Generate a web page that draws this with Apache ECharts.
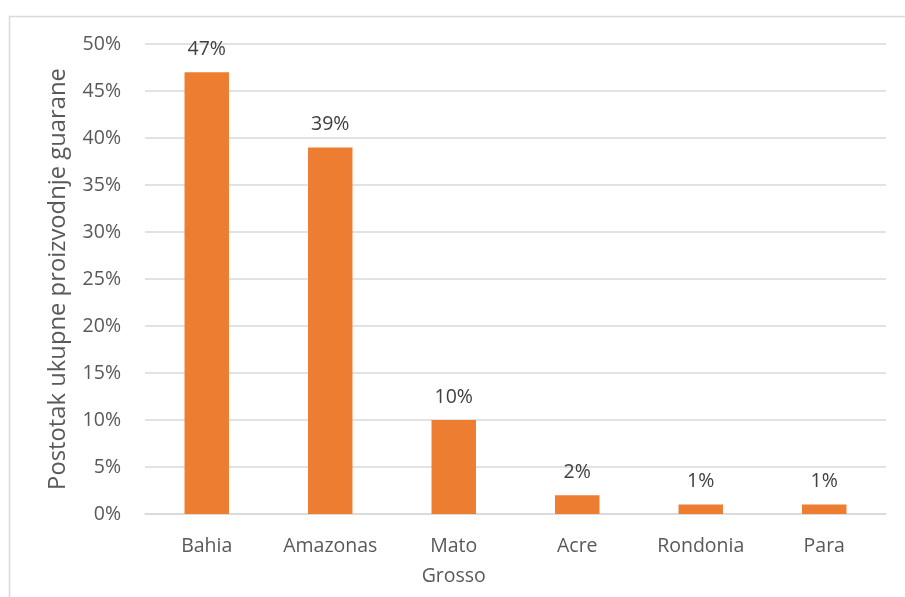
<!DOCTYPE html>
<html><head><meta charset="utf-8">
<script src="https://cdn.jsdelivr.net/npm/echarts@6/dist/echarts.min.js"></script>
<style>html,body{margin:0;padding:0;background:#fff}#c{width:905px;height:597px}</style>
</head><body><div id="c"></div>
<script>
const categories = ['Bahia', 'Amazonas', 'Mato\nGrosso', 'Acre', 'Rondonia', 'Para'];
const values = [47, 39, 10, 2, 1, 1];
const yTicks = [0, 5, 10, 15, 20, 25, 30, 35, 40, 45, 50];
const yAxisTitle = 'Postotak ukupne proizvodnje guarane';

const font = '"Open Sans", Lato, "Liberation Sans", sans-serif';
const chart = echarts.init(document.getElementById('c'), null, {renderer: 'canvas'});
chart.setOption({
  animation: false,
  backgroundColor: '#fff',
  graphic: [{
    type: 'rect', left: 7, top: 14, shape: {width: 1000, height: 1000},
    style: {fill: 'none', stroke: '#d9d9d9', lineWidth: 1.5}, silent: true
  }],
  grid: {left: 145, right: 19, top: 44, bottom: 83},
  xAxis: {
    type: 'category', data: categories,
    axisLine: {lineStyle: {color: '#d9d9d9', width: 1.5}},
    axisTick: {show: false},
    axisLabel: {color: '#595959', fontSize: 19.5, fontFamily: font, margin: 17, lineHeight: 30}
  },
  yAxis: {
    type: 'value', min: yTicks[0], max: yTicks[yTicks.length - 1], interval: 5,
    name: yAxisTitle, nameLocation: 'middle', nameGap: 75,
    nameTextStyle: {color: '#595959', fontSize: 23.8, fontFamily: font},
    axisLine: {show: false}, axisTick: {show: false},
    splitLine: {lineStyle: {color: '#d9d9d9', width: 1.5}},
    axisLabel: {color: '#595959', fontSize: 19.5, fontFamily: font, margin: 24, formatter: v => v + '%'}
  },
  series: [{
    type: 'bar', data: values, barWidth: '36%',
    itemStyle: {color: '#ED7D31'},
    label: {show: true, position: 'top', distance: 13, color: '#404040', fontSize: 19.5, fontFamily: font, formatter: p => p.value + '%'}
  }]
});
</script></body></html>
